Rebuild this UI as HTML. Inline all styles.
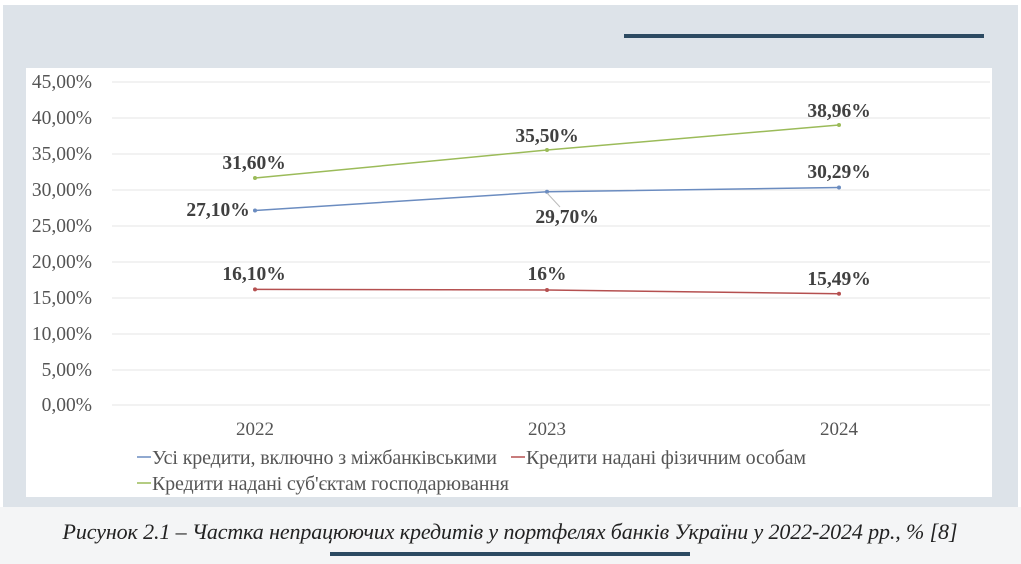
<!DOCTYPE html>
<html><head><meta charset="utf-8"><style>
body{margin:0;width:1021px;height:564px;overflow:hidden;background:#fff;font-family:"Liberation Serif",serif;}
</style></head><body>
<svg width="1021" height="564" xmlns="http://www.w3.org/2000/svg" style="position:absolute;left:0;top:0">
<rect x="0" y="0" width="1021" height="564" fill="#fff"/>
<rect x="3" y="5" width="1015" height="502" fill="#dde3e9"/>
<rect x="0" y="507" width="1021" height="57" fill="#f4f5f6"/>
<rect x="624" y="34" width="360" height="4" fill="#2c4a62"/>
<rect x="26" y="68" width="966" height="429" fill="#fff"/>
<g stroke="#e6e6e6" stroke-width="1">
<line x1="112" x2="990" y1="82" y2="82"/><line x1="112" x2="990" y1="118" y2="118"/>
<line x1="112" x2="990" y1="154" y2="154"/><line x1="112" x2="990" y1="190" y2="190"/>
<line x1="112" x2="990" y1="226" y2="226"/><line x1="112" x2="990" y1="262" y2="262"/>
<line x1="112" x2="990" y1="298" y2="298"/><line x1="112" x2="990" y1="334" y2="334"/>
<line x1="112" x2="990" y1="370" y2="370"/><line x1="112" x2="990" y1="405" y2="405"/>
</g>
<g font-size="19.5" fill="#555" text-anchor="end">
<text x="92" y="88">45,00%</text><text x="92" y="124">40,00%</text><text x="92" y="160">35,00%</text>
<text x="92" y="196">30,00%</text><text x="92" y="232">25,00%</text><text x="92" y="268">20,00%</text>
<text x="92" y="304">15,00%</text><text x="92" y="340">10,00%</text><text x="92" y="376">5,00%</text>
<text x="92" y="411">0,00%</text>
</g>
<g font-size="19" fill="#555" text-anchor="middle">
<text x="255" y="435">2022</text><text x="547" y="435">2023</text><text x="839" y="435">2024</text>
</g>
<polyline points="255,178 547,150 839,125" fill="none" stroke="#9bbb59" stroke-width="1.5"/>
<polyline points="255,210.5 547,191.8 839,187.5" fill="none" stroke="#6b8cc0" stroke-width="1.5"/>
<polyline points="255,289.4 547,290 839,293.8" fill="none" stroke="#b55050" stroke-width="1.5"/>
<g fill="#9bbb59"><circle cx="255" cy="178" r="2"/><circle cx="547" cy="150" r="2"/><circle cx="839" cy="125" r="2"/></g>
<g fill="#6b8cc0"><circle cx="255" cy="210.5" r="2"/><circle cx="547" cy="191.8" r="2"/><circle cx="839" cy="187.5" r="2"/></g>
<g fill="#b55050"><circle cx="255" cy="289.4" r="2"/><circle cx="547" cy="290" r="2"/><circle cx="839" cy="293.8" r="2"/></g>
<line x1="547" y1="193" x2="560" y2="207" stroke="#bbb"/>
<g font-size="19.5" font-weight="bold" fill="#404040" text-anchor="middle">
<text x="254" y="169">31,60%</text><text x="547" y="142">35,50%</text><text x="839" y="117">38,96%</text>
<text x="218" y="216">27,10%</text><text x="567" y="223">29,70%</text><text x="839" y="178">30,29%</text>
<text x="254" y="280">16,10%</text><text x="547" y="280">16%</text><text x="839" y="285">15,49%</text>
</g>
<g font-size="20" fill="#555">
<line x1="137" x2="151" y1="457" y2="457" stroke="#6b8cc0" stroke-width="1.5"/>
<text x="152" y="464" textLength="345">Усі кредити, включно з міжбанківськими</text>
<line x1="511" x2="525" y1="457" y2="457" stroke="#b55050" stroke-width="1.5"/>
<text x="526" y="464" textLength="280">Кредити надані фізичним особам</text>
<line x1="137" x2="151" y1="483" y2="483" stroke="#9bbb59" stroke-width="1.5"/>
<text x="152" y="490" textLength="357">Кредити надані суб'єктам господарювання</text>
</g>
<text x="510" y="539" text-anchor="middle" font-size="22" font-style="italic" fill="#222" textLength="895">Рисунок 2.1 – Частка непрацюючих кредитів у портфелях банків України у 2022-2024 рр., % [8]</text>
<rect x="330" y="552" width="360" height="4" fill="#2c4a62"/>
</svg>
</body></html>
